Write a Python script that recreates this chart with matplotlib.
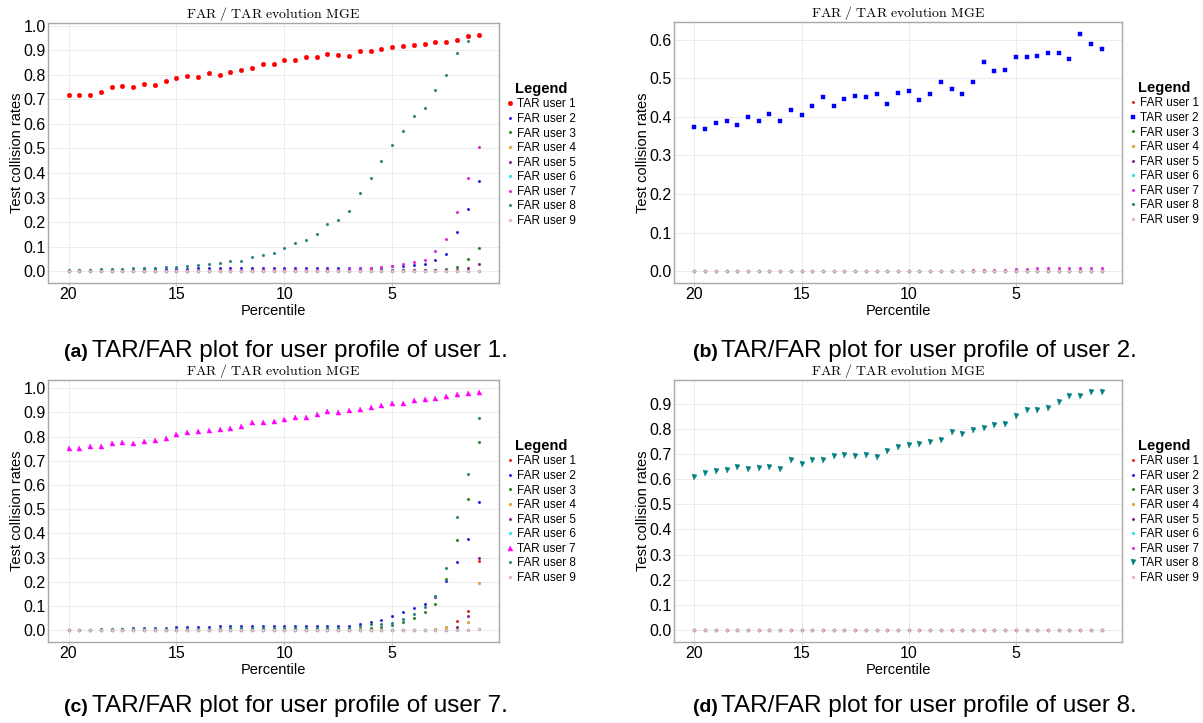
import matplotlib
matplotlib.use("Agg")
import matplotlib.pyplot as plt
from matplotlib.ticker import FormatStrFormatter, MultipleLocator

W, H = 1203, 723

plt.rcParams["font.family"] = ["Liberation Sans", "DejaVu Sans"]
plt.rcParams["mathtext.fontset"] = "cm"

pct = [20, 19.5, 19, 18.5, 18, 17.5, 17, 16.5, 16, 15.5, 15, 14.5, 14, 13.5, 13,
       12.5, 12, 11.5, 11, 10.5, 10, 9.5, 9, 8.5, 8, 7.5, 7, 6.5, 6, 5.5, 5,
       4.5, 4, 3.5, 3, 2.5, 2, 1.5, 1]

colors = ["red", "blue", "green", "orange", "purple", "cyan", "magenta", "teal", "pink"]

zeros = [0.0] * len(pct)

# profile of user 1
a_u1 = [0.716, 0.719, 0.717, 0.731, 0.751, 0.756, 0.750, 0.763, 0.759, 0.775, 0.786,
        0.796, 0.792, 0.809, 0.801, 0.812, 0.820, 0.828, 0.846, 0.843, 0.859, 0.859,
        0.874, 0.874, 0.884, 0.880, 0.878, 0.897, 0.899, 0.904, 0.912, 0.917, 0.922,
        0.924, 0.935, 0.932, 0.942, 0.958, 0.963]
a_u2 = [0.002, 0.003, 0.003, 0.004, 0.005, 0.005, 0.006, 0.007, 0.008, 0.009, 0.010,
        0.010, 0.011, 0.011, 0.012, 0.012, 0.013, 0.013, 0.014, 0.014, 0.014, 0.014,
        0.014, 0.014, 0.014, 0.014, 0.014, 0.014, 0.015, 0.015, 0.021, 0.023, 0.025,
        0.029, 0.045, 0.070, 0.159, 0.253, 0.367]
a_u3 = [0.0, 0.0, 0.0, 0.0, 0.0, 0.0, 0.0, 0.0, 0.0, 0.0, 0.0, 0.0, 0.0, 0.0, 0.0,
        0.0, 0.0, 0.0, 0.0, 0.0, 0.0, 0.0, 0.001, 0.001, 0.001, 0.001, 0.001, 0.001,
        0.002, 0.002, 0.002, 0.003, 0.003, 0.004, 0.005, 0.007, 0.018, 0.051, 0.095]
a_u5 = [0.0, 0.0, 0.0, 0.0, 0.001, 0.001, 0.001, 0.001, 0.001, 0.001, 0.002, 0.002,
        0.002, 0.002, 0.002, 0.002, 0.002, 0.002, 0.003, 0.003, 0.003, 0.003, 0.003,
        0.003, 0.003, 0.003, 0.003, 0.003, 0.003, 0.004, 0.004, 0.004, 0.004, 0.004,
        0.004, 0.004, 0.006, 0.013, 0.030]
a_u7 = [0.001, 0.001, 0.001, 0.001, 0.001, 0.001, 0.002, 0.002, 0.002, 0.002, 0.002,
        0.002, 0.002, 0.002, 0.003, 0.003, 0.003, 0.003, 0.003, 0.003, 0.003, 0.004,
        0.005, 0.005, 0.006, 0.006, 0.007, 0.009, 0.014, 0.017, 0.023, 0.029, 0.037,
        0.047, 0.081, 0.132, 0.240, 0.379, 0.505]
a_u8 = [0.004, 0.004, 0.005, 0.007, 0.008, 0.009, 0.011, 0.012, 0.014, 0.016, 0.019,
        0.022, 0.026, 0.030, 0.034, 0.042, 0.043, 0.058, 0.066, 0.076, 0.095, 0.113,
        0.129, 0.152, 0.194, 0.210, 0.246, 0.318, 0.380, 0.450, 0.515, 0.570, 0.631,
        0.663, 0.739, 0.800, 0.889, 0.939, 0.962]

# profile of user 2
b_u2 = [0.374, 0.368, 0.384, 0.388, 0.380, 0.400, 0.388, 0.408, 0.388, 0.418, 0.405,
        0.427, 0.452, 0.428, 0.446, 0.454, 0.452, 0.460, 0.433, 0.462, 0.468, 0.443,
        0.458, 0.490, 0.472, 0.458, 0.490, 0.541, 0.518, 0.522, 0.554, 0.555, 0.557,
        0.565, 0.566, 0.551, 0.615, 0.588, 0.575]
b_u7 = [0.0, 0.0, 0.0, 0.0, 0.0, 0.0, 0.0, 0.0, 0.0, 0.0, 0.0, 0.0, 0.0, 0.0, 0.0,
        0.0, 0.0, 0.0, 0.0, 0.0, 0.0, 0.0, 0.0, 0.0, 0.0, 0.001, 0.002, 0.003, 0.0035,
        0.004, 0.005, 0.005, 0.007, 0.007, 0.008, 0.008, 0.009, 0.009, 0.009]

# profile of user 7
c_u1 = [0.0, 0.0, 0.0, 0.0, 0.0, 0.0, 0.0, 0.0, 0.0, 0.0, 0.0, 0.0, 0.0, 0.0, 0.0,
        0.0, 0.0, 0.0, 0.0, 0.0, 0.0, 0.0, 0.0, 0.0, 0.0, 0.0, 0.0, 0.0, 0.0, 0.0,
        0.0, 0.0, 0.0, 0.0, 0.0, 0.002, 0.039, 0.077, 0.284]
c_u2 = [0.000, 0.001, 0.001, 0.004, 0.004, 0.006, 0.008, 0.008, 0.010, 0.010, 0.011,
        0.011, 0.012, 0.014, 0.015, 0.015, 0.015, 0.015, 0.015, 0.015, 0.015, 0.015,
        0.015, 0.015, 0.015, 0.015, 0.018, 0.024, 0.035, 0.043, 0.058, 0.076, 0.090,
        0.109, 0.137, 0.201, 0.281, 0.378, 0.530]
c_u3 = [0.0, 0.0, 0.0, 0.0, 0.001, 0.001, 0.001, 0.001, 0.001, 0.002, 0.002, 0.002,
        0.002, 0.002, 0.002, 0.003, 0.003, 0.003, 0.003, 0.003, 0.003, 0.003, 0.003,
        0.003, 0.004, 0.004, 0.005, 0.006, 0.008, 0.011, 0.021, 0.035, 0.051, 0.073,
        0.109, 0.212, 0.373, 0.542, 0.777]
c_u4 = [0.0, 0.0, 0.0, 0.0, 0.0, 0.0, 0.0, 0.0, 0.0, 0.0, 0.0, 0.0, 0.0, 0.0, 0.0,
        0.0, 0.0, 0.0, 0.0, 0.0, 0.0, 0.0, 0.0, 0.0, 0.0, 0.0, 0.0, 0.0, 0.0, 0.0,
        0.0, 0.0, 0.0, 0.0, 0.003, 0.011, 0.006, 0.033, 0.195]
c_u5 = [0.0, 0.0, 0.0, 0.0, 0.0, 0.0, 0.0, 0.0, 0.0, 0.0, 0.0, 0.0, 0.0, 0.0, 0.0,
        0.0, 0.0, 0.0, 0.0, 0.0, 0.0, 0.0, 0.0, 0.0, 0.0, 0.0, 0.0, 0.0, 0.0, 0.0,
        0.0, 0.0, 0.0, 0.0, 0.0, 0.001, 0.012, 0.059, 0.299]
c_u6 = [0.0, 0.0, 0.0, 0.0, 0.0, 0.0, 0.0, 0.0, 0.0, 0.0, 0.0, 0.0, 0.0, 0.0, 0.0,
        0.0, 0.0, 0.0, 0.0, 0.0, 0.0, 0.0, 0.0, 0.0, 0.0, 0.0, 0.0, 0.0, 0.0, 0.0,
        0.0, 0.0, 0.0, 0.0, 0.0, 0.0, 0.0, 0.0, 0.003]
c_u7 = [0.751, 0.755, 0.760, 0.760, 0.775, 0.776, 0.775, 0.783, 0.788, 0.795, 0.810,
        0.819, 0.822, 0.826, 0.833, 0.837, 0.842, 0.862, 0.862, 0.866, 0.873, 0.882,
        0.882, 0.893, 0.905, 0.903, 0.911, 0.913, 0.921, 0.929, 0.938, 0.941, 0.953,
        0.956, 0.960, 0.970, 0.975, 0.982, 0.985]
c_u8 = [0.000, 0.001, 0.001, 0.002, 0.002, 0.003, 0.003, 0.004, 0.004, 0.005, 0.005,
        0.005, 0.006, 0.006, 0.006, 0.007, 0.007, 0.007, 0.007, 0.007, 0.007, 0.007,
        0.007, 0.008, 0.008, 0.008, 0.010, 0.015, 0.024, 0.026, 0.030, 0.046, 0.065,
        0.097, 0.140, 0.256, 0.467, 0.646, 0.877]
c_u9 = [0.0, 0.0, 0.0, 0.0, 0.0, 0.0, 0.0, 0.0, 0.0, 0.0, 0.0, 0.0, 0.0, 0.0, 0.0,
        0.0, 0.0, 0.0, 0.0, 0.0, 0.0, 0.0, 0.0, 0.0, 0.0, 0.0, 0.0, 0.0, 0.0, 0.0,
        0.0, 0.0, 0.0, 0.0, 0.0, 0.0, 0.0, 0.0, 0.005]

# profile of user 8
d_u8 = [0.607, 0.623, 0.631, 0.636, 0.650, 0.642, 0.643, 0.647, 0.640, 0.676, 0.660,
        0.676, 0.678, 0.694, 0.698, 0.694, 0.695, 0.690, 0.711, 0.727, 0.734, 0.740,
        0.746, 0.756, 0.786, 0.778, 0.795, 0.803, 0.816, 0.819, 0.850, 0.876, 0.876,
        0.884, 0.907, 0.931, 0.932, 0.945, 0.947]

panels = [
    # (left, top, right, bottom) in pixels, caption x / baseline, series, TAR user, marker
    ((48, 23, 499, 283), (64, 357), [a_u1, a_u2, a_u3, zeros, a_u5, zeros, a_u7, a_u8, zeros],
     1, "o", 3.3, "(a)", "TAR/FAR plot for user profile of user 1."),
    ((674, 22, 1122, 283), (693, 357), [zeros, b_u2, zeros, zeros, zeros, zeros, b_u7, zeros, zeros],
     2, "s", 3.0, "(b)", "TAR/FAR plot for user profile of user 2."),
    ((48, 380, 499, 642), (64, 712), [c_u1, c_u2, c_u3, c_u4, c_u5, c_u6, c_u7, c_u8, c_u9],
     7, "^", 3.6, "(c)", "TAR/FAR plot for user profile of user 7."),
    ((674, 380, 1122, 642), (693, 712), [zeros] * 7 + [d_u8, zeros],
     8, "v", 3.6, "(d)", "TAR/FAR plot for user profile of user 8."),
]

fig = plt.figure(figsize=(W / 100, H / 100), dpi=100)

for (l, t, r, b), (cx, base), series, tar, tar_marker, tar_ms, tag, caption in panels:
    ax = fig.add_axes([l / W, 1 - b / H, (r - l) / W, (b - t) / H])
    for k, (vals, col) in enumerate(zip(series, colors), start=1):
        if k == tar:
            ax.plot(pct, vals, ls="none", marker=tar_marker, ms=tar_ms, color=col,
                    mec=col, mew=0.3, label=f"TAR user {k}", zorder=3)
        else:
            ax.plot(pct, vals, ls="none", marker="o", ms=2.1, color=col,
                    mec="#a0a0a0", mew=0.25, label=f"FAR user {k}", zorder=2)
    ax.margins(x=0.05, y=0.05)
    ax.invert_xaxis()
    ax.set_xticks([20, 15, 10, 5])
    ax.yaxis.set_major_locator(MultipleLocator(0.1))
    ax.yaxis.set_major_formatter(FormatStrFormatter("%.1f"))
    ax.grid(True, color="#ececec", lw=0.7)
    ax.set_axisbelow(True)
    for sp in ax.spines.values():
        sp.set_color("#a8a8a8")
        sp.set_linewidth(1.0)
    ax.tick_params(labelsize=11.5, color="#c8c8c8")
    ax.tick_params(axis="x", length=2, pad=1)
    ax.tick_params(axis="y", length=0, pad=1.5)
    ax.set_xlabel("Percentile", fontsize=10.5, labelpad=1)
    ax.set_ylabel("Test collision rates", fontsize=10.5, labelpad=0)
    ax.set_title(r"$\mathrm{FAR\ /\ TAR\ evolution\ MGE}$", fontsize=10, pad=3)

    ax.legend(loc="upper left", bbox_to_anchor=((r + 4) / W, 1 - (t + 54) / H),
              bbox_transform=fig.transFigure, frameon=False, fontsize=8.5,
              title="Legend", title_fontproperties={"weight": "bold", "size": 10.5},
              handlelength=0.4, handletextpad=0.35, labelspacing=0.22,
              borderaxespad=0)

    fig.text(cx / W, 1 - base / H, tag, fontsize=14, weight="bold",
             ha="left", va="baseline")
    fig.text((cx + 28) / W, 1 - base / H, caption, fontsize=17.5,
             ha="left", va="baseline")

fig.savefig("out.png", dpi=100)
